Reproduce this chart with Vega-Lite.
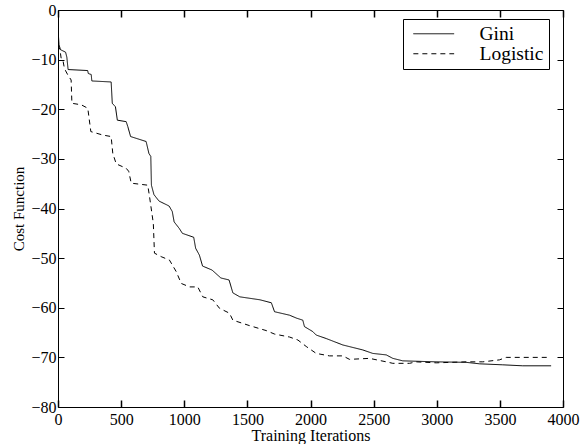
{
  "$schema": "https://vega.github.io/schema/vega-lite/v6.json",
  "autosize": {"type": "none"},
  "width": 505,
  "height": 397,
  "padding": {"left": 58, "top": 10, "right": 18, "bottom": 37},
  "background": "white",
  "config": {
    "view": {"stroke": "black", "strokeWidth": 1},
    "font": "Liberation Serif",
    "axis": {"grid": false, "domain": false, "labelColor": "black", "titleColor": "black", "labelFont": "Liberation Serif", "titleFont": "Liberation Serif", "labelFontSize": 16, "titleFontWeight": "normal", "titleFontSize": 16}
  },
  "datasets": {
    "curves": [
      {"iter": 0, "cost": 0, "method": "Gini"},
      {"iter": 3, "cost": -5, "method": "Gini"},
      {"iter": 8, "cost": -7, "method": "Gini"},
      {"iter": 20, "cost": -8, "method": "Gini"},
      {"iter": 60, "cost": -8.5, "method": "Gini"},
      {"iter": 70, "cost": -9.5, "method": "Gini"},
      {"iter": 80, "cost": -12, "method": "Gini"},
      {"iter": 235, "cost": -12.2, "method": "Gini"},
      {"iter": 240, "cost": -12.8, "method": "Gini"},
      {"iter": 263, "cost": -13, "method": "Gini"},
      {"iter": 268, "cost": -14.3, "method": "Gini"},
      {"iter": 421, "cost": -14.5, "method": "Gini"},
      {"iter": 430, "cost": -18.8, "method": "Gini"},
      {"iter": 455, "cost": -19.5, "method": "Gini"},
      {"iter": 470, "cost": -22.2, "method": "Gini"},
      {"iter": 540, "cost": -22.5, "method": "Gini"},
      {"iter": 553, "cost": -23.5, "method": "Gini"},
      {"iter": 575, "cost": -25.5, "method": "Gini"},
      {"iter": 698, "cost": -26.5, "method": "Gini"},
      {"iter": 720, "cost": -28.9, "method": "Gini"},
      {"iter": 735, "cost": -29.5, "method": "Gini"},
      {"iter": 740, "cost": -35.3, "method": "Gini"},
      {"iter": 760, "cost": -37.2, "method": "Gini"},
      {"iter": 800, "cost": -38.5, "method": "Gini"},
      {"iter": 880, "cost": -39.5, "method": "Gini"},
      {"iter": 905, "cost": -40.6, "method": "Gini"},
      {"iter": 920, "cost": -42.7, "method": "Gini"},
      {"iter": 960, "cost": -44, "method": "Gini"},
      {"iter": 985, "cost": -45, "method": "Gini"},
      {"iter": 1075, "cost": -45.8, "method": "Gini"},
      {"iter": 1090, "cost": -48, "method": "Gini"},
      {"iter": 1120, "cost": -49.4, "method": "Gini"},
      {"iter": 1145, "cost": -51.6, "method": "Gini"},
      {"iter": 1220, "cost": -52.4, "method": "Gini"},
      {"iter": 1290, "cost": -54, "method": "Gini"},
      {"iter": 1355, "cost": -54.4, "method": "Gini"},
      {"iter": 1385, "cost": -57, "method": "Gini"},
      {"iter": 1440, "cost": -57.8, "method": "Gini"},
      {"iter": 1600, "cost": -58.4, "method": "Gini"},
      {"iter": 1690, "cost": -59, "method": "Gini"},
      {"iter": 1715, "cost": -60.8, "method": "Gini"},
      {"iter": 1834, "cost": -61.5, "method": "Gini"},
      {"iter": 1890, "cost": -62.1, "method": "Gini"},
      {"iter": 1939, "cost": -62.5, "method": "Gini"},
      {"iter": 1952, "cost": -63.8, "method": "Gini"},
      {"iter": 2018, "cost": -64.8, "method": "Gini"},
      {"iter": 2045, "cost": -65.5, "method": "Gini"},
      {"iter": 2124, "cost": -66.2, "method": "Gini"},
      {"iter": 2256, "cost": -67.5, "method": "Gini"},
      {"iter": 2414, "cost": -68.5, "method": "Gini"},
      {"iter": 2493, "cost": -69.2, "method": "Gini"},
      {"iter": 2600, "cost": -69.5, "method": "Gini"},
      {"iter": 2652, "cost": -70.2, "method": "Gini"},
      {"iter": 2731, "cost": -70.7, "method": "Gini"},
      {"iter": 2996, "cost": -70.9, "method": "Gini"},
      {"iter": 3233, "cost": -71, "method": "Gini"},
      {"iter": 3339, "cost": -71.3, "method": "Gini"},
      {"iter": 3523, "cost": -71.5, "method": "Gini"},
      {"iter": 3681, "cost": -71.7, "method": "Gini"},
      {"iter": 3906, "cost": -71.7, "method": "Gini"},
      {"iter": 0, "cost": -7, "method": "Logistic"},
      {"iter": 15, "cost": -8, "method": "Logistic"},
      {"iter": 25, "cost": -9.7, "method": "Logistic"},
      {"iter": 38, "cost": -10, "method": "Logistic"},
      {"iter": 51, "cost": -11.8, "method": "Logistic"},
      {"iter": 78, "cost": -13.1, "method": "Logistic"},
      {"iter": 104, "cost": -14.1, "method": "Logistic"},
      {"iter": 110, "cost": -18.8, "method": "Logistic"},
      {"iter": 184, "cost": -19.1, "method": "Logistic"},
      {"iter": 236, "cost": -19.8, "method": "Logistic"},
      {"iter": 260, "cost": -24.5, "method": "Logistic"},
      {"iter": 355, "cost": -25.2, "method": "Logistic"},
      {"iter": 421, "cost": -25.5, "method": "Logistic"},
      {"iter": 434, "cost": -28.9, "method": "Logistic"},
      {"iter": 461, "cost": -31, "method": "Logistic"},
      {"iter": 540, "cost": -31.9, "method": "Logistic"},
      {"iter": 560, "cost": -32.5, "method": "Logistic"},
      {"iter": 580, "cost": -34.9, "method": "Logistic"},
      {"iter": 711, "cost": -35.3, "method": "Logistic"},
      {"iter": 725, "cost": -37.6, "method": "Logistic"},
      {"iter": 755, "cost": -43, "method": "Logistic"},
      {"iter": 764, "cost": -49, "method": "Logistic"},
      {"iter": 817, "cost": -49.7, "method": "Logistic"},
      {"iter": 883, "cost": -50.4, "method": "Logistic"},
      {"iter": 936, "cost": -52.7, "method": "Logistic"},
      {"iter": 976, "cost": -55.1, "method": "Logistic"},
      {"iter": 1042, "cost": -55.8, "method": "Logistic"},
      {"iter": 1107, "cost": -55.8, "method": "Logistic"},
      {"iter": 1147, "cost": -57.8, "method": "Logistic"},
      {"iter": 1226, "cost": -58.4, "method": "Logistic"},
      {"iter": 1279, "cost": -60.1, "method": "Logistic"},
      {"iter": 1358, "cost": -61.1, "method": "Logistic"},
      {"iter": 1385, "cost": -62.5, "method": "Logistic"},
      {"iter": 1517, "cost": -63.6, "method": "Logistic"},
      {"iter": 1649, "cost": -64.6, "method": "Logistic"},
      {"iter": 1715, "cost": -65.3, "method": "Logistic"},
      {"iter": 1834, "cost": -65.9, "method": "Logistic"},
      {"iter": 1900, "cost": -66.5, "method": "Logistic"},
      {"iter": 1966, "cost": -67.8, "method": "Logistic"},
      {"iter": 2045, "cost": -69.2, "method": "Logistic"},
      {"iter": 2150, "cost": -69.7, "method": "Logistic"},
      {"iter": 2256, "cost": -69.7, "method": "Logistic"},
      {"iter": 2309, "cost": -70.4, "method": "Logistic"},
      {"iter": 2467, "cost": -70.2, "method": "Logistic"},
      {"iter": 2600, "cost": -70.9, "method": "Logistic"},
      {"iter": 2652, "cost": -71.2, "method": "Logistic"},
      {"iter": 2784, "cost": -71.2, "method": "Logistic"},
      {"iter": 2837, "cost": -70.9, "method": "Logistic"},
      {"iter": 2996, "cost": -71.1, "method": "Logistic"},
      {"iter": 3233, "cost": -70.9, "method": "Logistic"},
      {"iter": 3365, "cost": -70.9, "method": "Logistic"},
      {"iter": 3497, "cost": -70.5, "method": "Logistic"},
      {"iter": 3550, "cost": -70, "method": "Logistic"},
      {"iter": 3893, "cost": -70, "method": "Logistic"}
    ]
  },
  "data": {"name": "curves"},
  "layer": [
    {
      "mark": {"type": "line", "color": "black", "strokeWidth": 1, "clip": true},
      "encoding": {
        "x": {"field": "iter", "type": "quantitative", "scale": {"domain": [0, 4000], "nice": false, "zero": false}, "axis": {"title": "Training Iterations", "orient": "bottom", "format": "d", "tickColor": "black", "tickSize": -7, "tickWidth": 1.5, "tickOpacity": 1, "zindex": 1, "values": [0, 500, 1000, 1500, 2000, 2500, 3000, 3500, 4000], "labelPadding": 11, "titlePadding": 0, "labelFlush": false}},
        "y": {"field": "cost", "type": "quantitative", "scale": {"domain": [-80, 0], "nice": false, "zero": false}, "axis": {"title": "Cost Function", "orient": "left", "format": "d", "tickColor": "black", "tickSize": -6, "tickWidth": 1, "values": [-80, -70, -60, -50, -40, -30, -20, -10, 0], "labelPadding": 8, "titlePadding": 4, "titleFontSize": 15, "labelFlush": false}},
        "strokeDash": {"field": "method", "type": "nominal", "scale": {"domain": ["Gini", "Logistic"], "range": [[1, 0], [5, 4]]}, "legend": {"title": null, "orient": "none", "legendX": 345, "legendY": 9, "direction": "vertical", "strokeColor": "black", "fillColor": "white", "padding": 5, "symbolType": "M-2.4,0H2.4", "symbolSize": 289, "symbolOffset": 16, "symbolStrokeColor": "black", "symbolStrokeWidth": 1, "labelFontSize": 19.5, "labelFont": "Liberation Serif", "labelColor": "black", "labelOffset": 36, "rowPadding": -7, "labelLimit": 200, "cornerRadius": 0}}
      }
    },
    {
      "mark": {"type": "line", "opacity": 0},
      "encoding": {
        "x": {"field": "iter", "type": "quantitative", "axis": {"orient": "top", "labels": false, "title": null, "tickColor": "black", "tickSize": -7, "tickWidth": 1.5, "tickOpacity": 1, "zindex": 1, "values": [0, 500, 1000, 1500, 2000, 2500, 3000, 3500, 4000]}},
        "y": {"field": "cost", "type": "quantitative", "axis": {"orient": "right", "labels": false, "title": null, "tickColor": "black", "tickSize": -6, "tickWidth": 1, "values": [-80, -70, -60, -50, -40, -30, -20, -10, 0]}}
      }
    }
  ],
  "resolve": {"axis": {"x": "independent", "y": "independent"}}
}
